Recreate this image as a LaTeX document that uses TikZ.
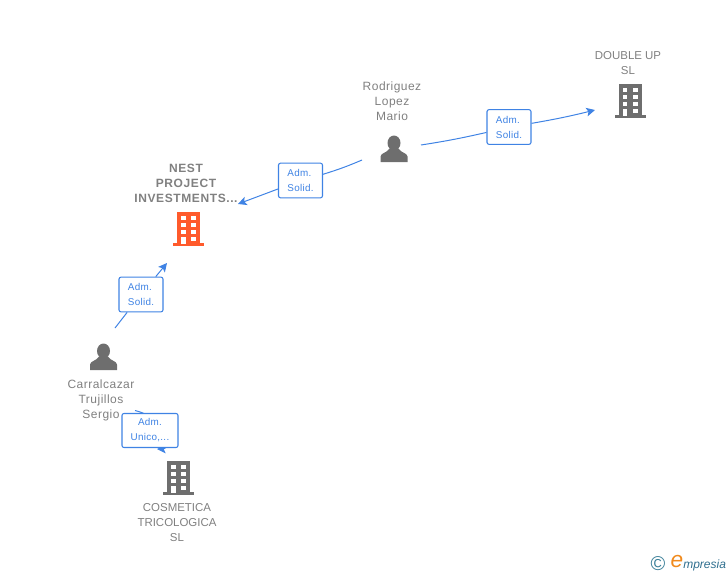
\documentclass[tikz,border=0pt]{standalone}
\usepackage{fontspec}
\setmainfont{Liberation Sans}
\usetikzlibrary{arrows.meta}
\definecolor{linkblue}{HTML}{3F83E4}
\definecolor{labelgrey}{HTML}{808080}
\definecolor{icongrey}{HTML}{6E6E6E}
\definecolor{nestorange}{HTML}{FF5A2B}
\definecolor{logoteal}{HTML}{3A7F98}
\definecolor{logoorange}{HTML}{F08A1D}
\definecolor{logoblue}{HTML}{2F6F8F}
\tikzset{
	name label/.style={text=labelgrey,align=center,inner sep=0pt,font=\fontsize{8.6}{11.25}\selectfont},
	person label/.style={name label,font=\fontsize{9}{11.25}\selectfont\addfontfeature{LetterSpace=4}},
	role box/.style={draw=linkblue,fill=white,rounded corners=1.5pt,line width=0.8pt,text=linkblue,inner sep=0pt,font=\fontsize{7.4}{11.25}\selectfont\addfontfeature{LetterSpace=3}},
	link/.style={draw=linkblue,line width=0.75pt},
	>={Stealth[inset=1.5pt,length=6.5pt,width=6.5pt]},
	building/.pic={
		\fill[pic actions] (-11.5,-17) rectangle (11.5,15);
		\fill[pic actions] (-15.5,14) rectangle (15.5,17);
		\foreach \y in {-13,-6,1}
		\fill[white] (-7.5,\y) rectangle (-3,\y+4);
		\foreach \y in {-13,-6,1,8}
		\fill[white] (2.5,\y) rectangle (7.5,\y+4);
		\fill[white] (-7.5,7.5) rectangle (-3,15);
	},
	person/.pic={
		\fill[pic actions] (0,-5.5) ellipse (6.5 and 7.5);
		\fill[pic actions] (-13.5,13.5) -- (-13.5,8) .. controls (-13.5,4.5) and (-7,4.5) .. (-4.5,0) -- (4.5,0) .. controls (7,4.5) and (13.5,4.5) .. (13.5,8) -- (13.5,13.5) -- cycle;
	},
}
\begin{document}
\begin{tikzpicture}[x=0.75pt,y=-0.75pt]
	\useasboundingbox (0,0) rectangle (728,575);
	\pic[fill=nestorange] at (188.5,229) {building};
	\pic[fill=icongrey] at (630,101) {building};
	\pic[fill=icongrey] at (178.5,478) {building};
	\pic[fill=icongrey] at (394,148.5) {person};
	\pic[fill=icongrey] at (103.5,356.5) {person};
	\node[name label,font=\fontsize{9}{11.25}\bfseries\addfontfeature{LetterSpace=5}] (nest) at (186,183) {NEST\\PROJECT\\INVESTMENTS...};
	\node[person label] (rodriguez) at (392,101) {Rodriguez\\Lopez\\Mario};
	\node[name label] (double) at (628,63.5) {DOUBLE UP\\SL};
	\node[person label] (sergio) at (101,400) {Carralcazar\\Trujillos\\Sergio};
	\node[name label] (cosmetica) at (177,523) {COSMETICA\\TRICOLOGICA\\SL};
	\coordinate (rodriguezleft) at (362,160);
	\coordinate (rodriguezright) at (421,145);
	\coordinate (nesttop) at (238,204);
	\coordinate (doubleleft) at (595,110);
	\coordinate (sergiotop) at (115,328);
	\coordinate (nestbottom) at (167,263);
	\coordinate (sergioright) at (135,410.5);
	\coordinate (cosmeticatop) at (157,449);
	\draw[link,->] (sergioright) .. controls (172,420) and (170,449) .. (cosmeticatop);
	\node[role box,align=left,minimum width=33pt,minimum height=26pt] (rolea) at (300.5,180.5) {Adm.\\Solid.};
	\node[role box,align=left,minimum width=33pt,minimum height=26pt] (roleb) at (509,127) {Adm.\\Solid.};
	\node[role box,align=left,minimum width=33pt,minimum height=26pt] (rolec) at (141,294.5) {Adm.\\Solid.};
	\node[role box,align=center,minimum width=42pt,minimum height=25.5pt] (roled) at (150,430.5) {Adm.\\Unico,...};
	\draw[link] (rodriguezleft) to[bend left=3] (rolea);
	\draw[link,->] (rolea) -- (nesttop);
	\draw[link] (rodriguezright) to[bend right=2] (roleb);
	\draw[link,->] (roleb) to[bend right=2] (doubleleft);
	\draw[link] (sergiotop) -- (rolec);
	\draw[link,->] (rolec) -- (nestbottom);
	\node[inner sep=0pt,text=logoteal,font=\fontsize{15}{15}\selectfont] (copyright) at (658,564) {©};
	\node[inner sep=0pt,text=logoorange,font=\fontsize{17}{17}\selectfont\itshape] (logoe) at (677,562) {e};
	\node[inner sep=0pt,anchor=base west,text=logoblue,font=\fontsize{9}{10}\selectfont\itshape] (logoname) at (683,568) {mpresia};
\end{tikzpicture}
\end{document}
